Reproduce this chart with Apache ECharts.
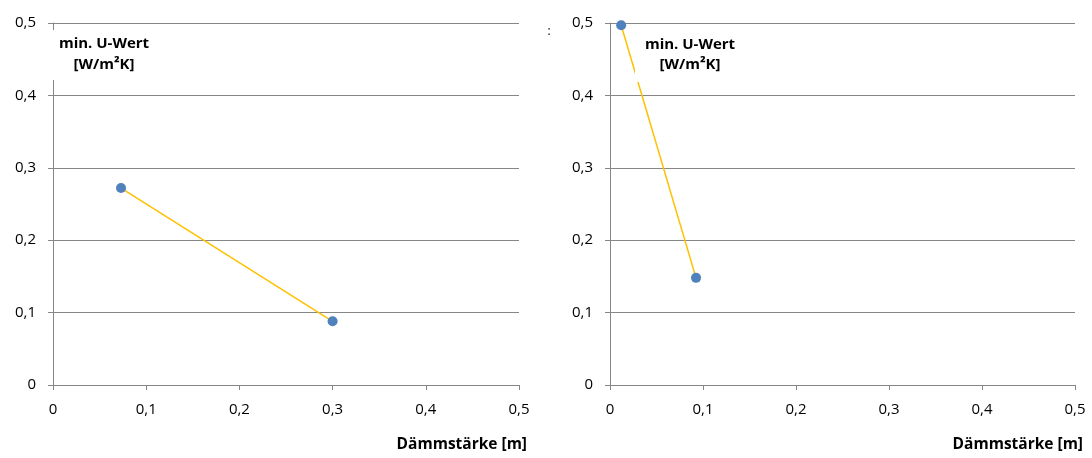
<!DOCTYPE html>
<html><head><meta charset="utf-8">
<script src="https://cdn.jsdelivr.net/npm/echarts@6/dist/echarts.min.js"></script>
<style>html,body{margin:0;padding:0;background:#fff}#c{width:1092px;height:458px}</style>
</head><body><div id="c"></div>
<script>
const leftX = [0.073, 0.300];
const leftY = [0.272, 0.088];
const rightX = [0.012, 0.0925];
const rightY = [0.497, 0.148];
const xAxisName = 'Dämmstärke [m]';
const yTitleLine1 = 'min. U-Wert';
const yTitleLine2 = '[W/m²K]';
const strayMark = ':';

const FONT = '"Open Sans", "Noto Sans", sans-serif';
const fmt = v => String(Math.round(v*10)/10).replace('.', ',');
const pairs = (xs, ys) => xs.map((x, i) => [x, ys[i]]);

function xAx(gi) {
  return {
    type: 'value', gridIndex: gi, min: 0, max: 0.5, interval: 0.1,
    name: xAxisName, nameLocation: 'end', nameGap: 8,
    nameTextStyle: { fontFamily: FONT, fontWeight: 'bold', fontSize: 15.5, color: '#000',
      align: 'right', verticalAlign: 'top', padding: [52, 0, 0, 0] },
    axisLine: { show: true, lineStyle: { color: '#868686', width: 1 } },
    axisTick: { show: true, length: 5, lineStyle: { color: '#868686' } },
    splitLine: { show: false },
    axisLabel: { formatter: fmt, fontFamily: FONT, fontSize: 15, color: '#000', margin: 17 }
  };
}
function yAx(gi) {
  return {
    type: 'value', gridIndex: gi, min: 0, max: 0.5, interval: 0.1,
    axisLine: { show: true, lineStyle: { color: '#868686', width: 1 } },
    axisTick: { show: true, length: 5, lineStyle: { color: '#868686' } },
    splitLine: { show: true, lineStyle: { color: '#868686', width: 1 } },
    axisLabel: { formatter: fmt, fontFamily: FONT, fontSize: 15, color: '#000', margin: 17 }
  };
}
function ser(gi, xs, ys) {
  return {
    type: 'line', xAxisIndex: gi, yAxisIndex: gi, data: pairs(xs, ys),
    symbol: 'circle', symbolSize: 10,
    lineStyle: { color: '#FFC000', width: 1.5 },
    itemStyle: { color: '#4F81BD' },
    z: 3
  };
}
function titleBox(x, y, w, h, cx, y1, y2) {
  return [
    { type: 'rect', z: 100, shape: { x: x, y: y, width: w, height: h }, style: { fill: '#fff' } },
    { type: 'text', z: 101, style: { x: cx, y: y1, text: yTitleLine1, align: 'center', verticalAlign: 'middle',
        font: 'bold 15px ' + FONT, fill: '#000' } },
    { type: 'text', z: 101, style: { x: cx, y: y2, text: yTitleLine2, align: 'center', verticalAlign: 'middle',
        font: 'bold 15px ' + FONT, fill: '#000' } }
  ];
}

const chart = echarts.init(document.getElementById('c'), null, { renderer: 'canvas' });
chart.setOption({
  animation: false,
  backgroundColor: '#fff',
  grid: [
    { left: 53, top: 23, width: 466, height: 362 },
    { left: 610, top: 23, width: 465, height: 362 }
  ],
  xAxis: [xAx(0), xAx(1)],
  yAxis: [yAx(0), yAx(1)],
  series: [ser(0, leftX, leftY), ser(1, rightX, rightY)],
  graphic: [].concat(
    titleBox(50, 30, 106, 50, 104, 44, 65),
    titleBox(635, 31, 112, 51, 690, 45, 65),
    [{ type: 'text', z: 100, style: { x: 549, y: 32, text: strayMark, align: 'center', verticalAlign: 'middle',
        font: '12px ' + FONT, fill: '#000' } }]
  )
});
</script></body></html>
